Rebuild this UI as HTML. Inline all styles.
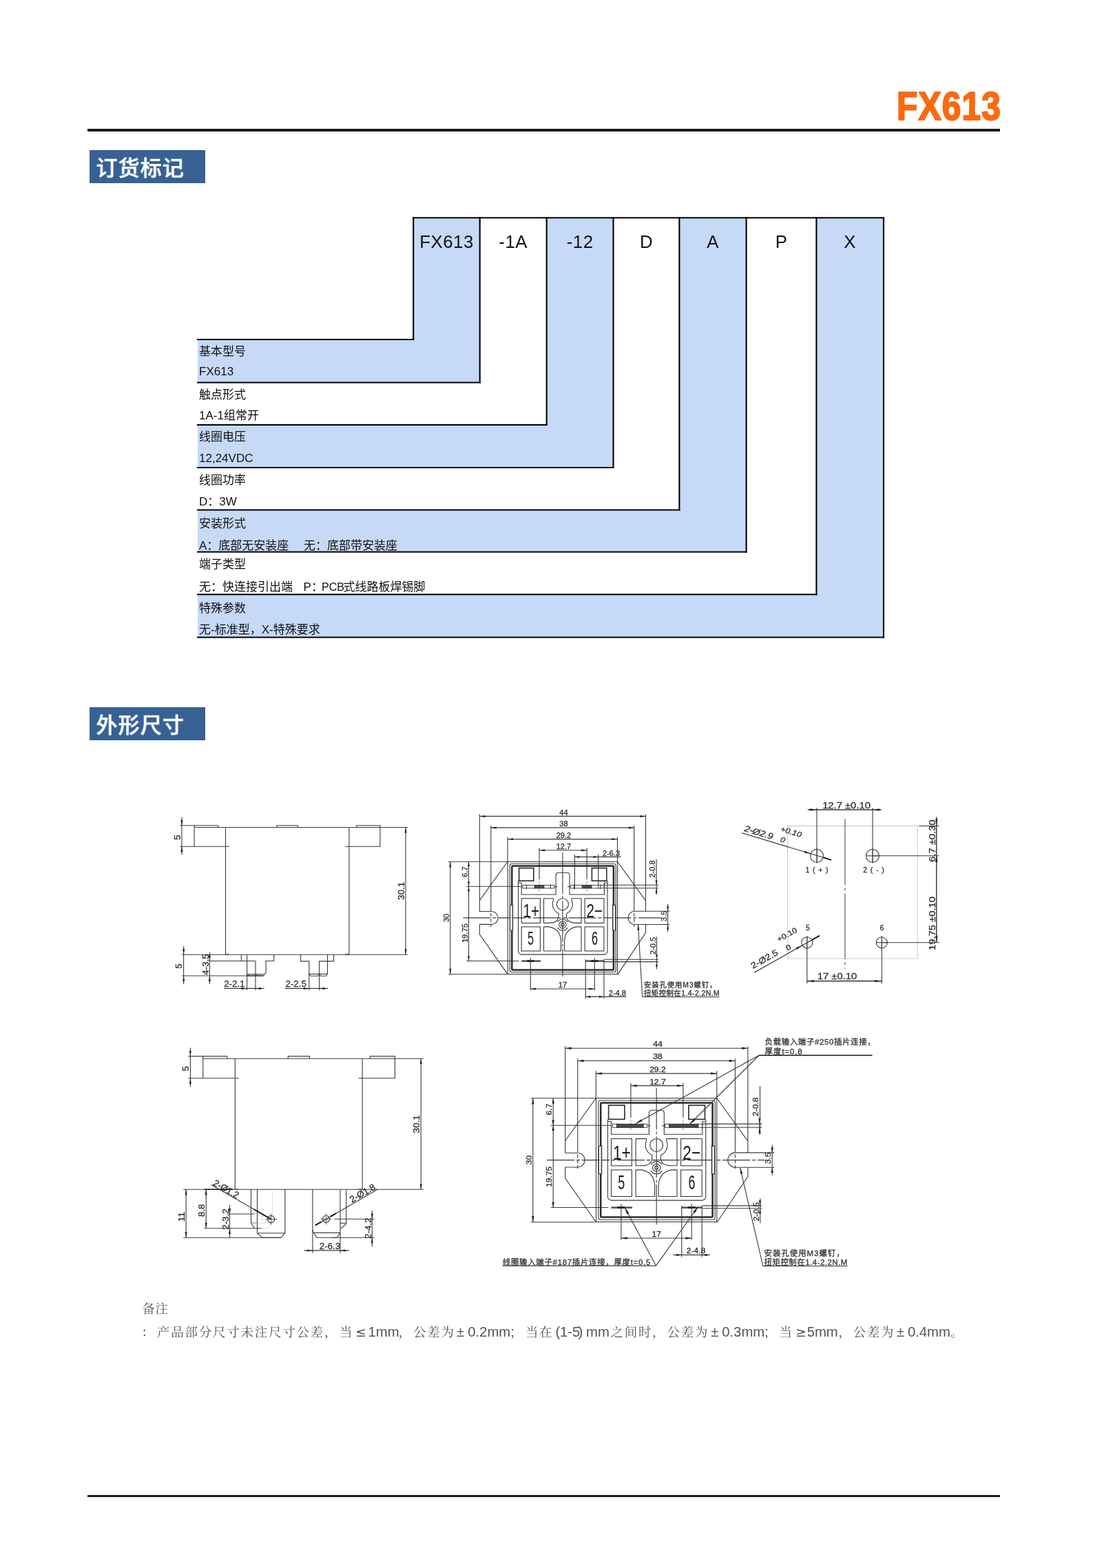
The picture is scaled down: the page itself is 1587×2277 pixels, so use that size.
<!DOCTYPE html>
<html lang="zh-CN">
<head>
<meta charset="utf-8">
<title>FX613</title>
<style>
html,body{margin:0;padding:0;background:#fff;}
body{width:1587px;height:2277px;position:relative;overflow:hidden;font-family:"Liberation Sans","Noto Sans CJK SC",sans-serif;}
svg{position:absolute;left:0;top:0;display:block;will-change:transform;}
.title{position:absolute;left:1301.5px;top:122.6px;width:150px;height:64px;color:#fa6a10;font-weight:bold;font-size:56.6px;line-height:64px;white-space:nowrap;-webkit-text-stroke:2.2px #fa6a10;}
.title span{display:inline-block;transform-origin:0 50%;transform:scaleX(0.875);letter-spacing:1.4px;}
.rule{position:absolute;left:127px;width:1325px;height:3.5px;background:#231815;}
.sec{position:absolute;left:130px;width:168px;height:48px;background:#376195;color:#fff;font-size:31px;line-height:54.4px;font-weight:500;-webkit-text-stroke:0.5px #fff;box-sizing:border-box;padding-left:9.5px;letter-spacing:1.1px;white-space:nowrap;font-family:"Liberation Sans","Noto Sans CJK SC",sans-serif;}
.n1,.n2{fill:#555;font-family:"Liberation Sans","Noto Serif CJK SC",serif;font-size:18.5px;}
.n1{letter-spacing:0.3px;}
.nc{letter-spacing:1.75px;}
.nl{font-size:20.3px;}
.ns{font-size:19px;font-family:"DejaVu Sans","Liberation Sans",sans-serif;}
.tb{stroke:#000;stroke-width:2.1;stroke-linecap:square;}
.th{font-size:25.8px;letter-spacing:0.5px;fill:#111;font-family:"Liberation Sans","Noto Sans CJK SC",sans-serif;}
.tl{font-size:17px;fill:#111;font-family:"Liberation Sans","Noto Sans CJK SC",sans-serif;}
.dw{fill:none;stroke:#3a3a3a;stroke-width:1.1;}
.dw .ah{fill:#222;stroke:none;}
.dw text{font-family:"Liberation Sans","Noto Sans CJK SC",sans-serif;fill:#2e2e2e;stroke:#2e2e2e;stroke-width:0.3;}
.dw .nt{fill:#333;stroke-width:0.3;}
.dw .cl{fill:#1a1a1a;stroke:none;}
</style>
</head>
<body>
<div class="title"><span>FX613</span></div>
<div class="rule" style="top:187px"></div>
<div class="sec" style="top:218px">订货标记</div>
<div class="sec" style="top:1027px">外形尺寸</div>
<svg class="tbl" width="1587" height="2277" viewBox="0 0 1587 2277">
<g class="tb">
<rect x="600.2" y="316.2" width="96.5" height="239.3" fill="#c6d9f7" stroke="none"/>
<rect x="287" y="493" width="409.7" height="62.5" fill="#c6d9f7" stroke="none"/>
<rect x="793.7" y="316.2" width="96.8" height="362.8" fill="#c6d9f7" stroke="none"/>
<rect x="287" y="617" width="603.5" height="62" fill="#c6d9f7" stroke="none"/>
<rect x="986.4" y="316.2" width="97.2" height="485.3" fill="#c6d9f7" stroke="none"/>
<rect x="287" y="740.5" width="796.6" height="61" fill="#c6d9f7" stroke="none"/>
<rect x="1185.4" y="316.2" width="97.6" height="609.3" fill="#c6d9f7" stroke="none"/>
<rect x="287" y="863.3" width="996" height="62.2" fill="#c6d9f7" stroke="none"/>
<line x1="600.2" y1="316.2" x2="1283" y2="316.2"/>
<line x1="600.2" y1="316.2" x2="600.2" y2="493"/>
<line x1="287" y1="493" x2="600.2" y2="493"/>
<line x1="696.7" y1="316.2" x2="696.7" y2="555.5"/>
<line x1="287" y1="555.5" x2="696.7" y2="555.5"/>
<line x1="793.7" y1="316.2" x2="793.7" y2="617"/>
<line x1="287" y1="617" x2="793.7" y2="617"/>
<line x1="890.5" y1="316.2" x2="890.5" y2="679"/>
<line x1="287" y1="679" x2="890.5" y2="679"/>
<line x1="986.4" y1="316.2" x2="986.4" y2="740.5"/>
<line x1="287" y1="740.5" x2="986.4" y2="740.5"/>
<line x1="1083.6" y1="316.2" x2="1083.6" y2="801.5"/>
<line x1="287" y1="801.5" x2="1083.6" y2="801.5"/>
<line x1="1185.4" y1="316.2" x2="1185.4" y2="863.3"/>
<line x1="287" y1="863.3" x2="1185.4" y2="863.3"/>
<line x1="1283" y1="316.2" x2="1283" y2="925.5"/>
<line x1="287" y1="925.5" x2="1283" y2="925.5"/>
</g>
<g>
<text class="th" x="648.5" y="360.3" text-anchor="middle">FX613</text>
<text class="th" x="745.2" y="360.3" text-anchor="middle">-1A</text>
<text class="th" x="842.1" y="360.3" text-anchor="middle">-12</text>
<text class="th" x="938.5" y="360.3" text-anchor="middle">D</text>
<text class="th" x="1035" y="360.3" text-anchor="middle">A</text>
<text class="th" x="1134.5" y="360.3" text-anchor="middle">P</text>
<text class="th" x="1234.2" y="360.3" text-anchor="middle">X</text>
<text class="tl" x="289" y="515.7">基本型号</text>
<text class="tl" x="289" y="545.3">FX613</text>
<text class="tl" x="289" y="578.7">触点形式</text>
<text class="tl" x="289" y="609.3">1A-1组常开</text>
<text class="tl" x="289" y="640.2">线圈电压</text>
<text class="tl" x="289" y="671">12,24VDC</text>
<text class="tl" x="289" y="703.4">线圈功率</text>
<text class="tl" x="289" y="734.1">D：3W</text>
<text class="tl" x="289" y="765.8">安装形式</text>
<text class="tl" x="289" y="798.4">A：底部无安装座<tspan x="441">无：底部带安装座</tspan></text>
<text class="tl" x="289" y="825.4">端子类型</text>
<text class="tl" x="289" y="858.2">无：快连接引出端<tspan x="440.6">P：<tspan font-size="16" x="467">PCB</tspan><tspan x="498.6">式线路板焊锡脚</tspan></tspan></text>
<text class="tl" x="289" y="888.7">特殊参数</text>
<text class="tl" x="289" y="920.3">无-标准型，X-特殊要求</text>
</g>
<g class="dw">
<g id="view-side-a"><line x1="282.1" y1="1201.5" x2="591.9" y2="1201.5"/>
<line x1="260.9" y1="1198.7" x2="316.8" y2="1198.7"/>
<line x1="282.1" y1="1198.7" x2="282.1" y2="1229.2"/>
<line x1="316.8" y1="1198.7" x2="316.8" y2="1201.5"/>
<line x1="260.9" y1="1229.2" x2="333" y2="1229.2"/>
<line x1="327.5" y1="1201.5" x2="327.5" y2="1386.2"/>
<line x1="506.9" y1="1201.5" x2="506.9" y2="1386.2"/>
<polyline points="401.9,1201.5 401.9,1198.7 432.5,1198.7 432.5,1201.5"/>
<polyline points="517.6,1201.5 517.6,1198.7 551.9,1198.7 551.9,1229.2 501.4,1229.2"/>
<line x1="589" y1="1201.5" x2="589" y2="1386.2"/>
<polygon class="ah" points="589,1201.5 590.5,1209.5 587.5,1209.5"/>
<polygon class="ah" points="589,1386.2 587.5,1378.2 590.5,1378.2"/>
<text class="dt" x="587" y="1293.8" font-size="13.3" text-anchor="middle" transform="rotate(-90 587 1293.8)">30.1</text>
<line x1="263.9" y1="1186.4" x2="263.9" y2="1241.5"/>
<polygon class="ah" points="263.9,1198.7 262.3,1190.7 265.4,1190.7"/>
<polygon class="ah" points="263.9,1229.2 265.4,1237.2 262.3,1237.2"/>
<text class="dt" x="261.7" y="1216" font-size="13.3" text-anchor="middle" transform="rotate(-90 261.7 1216)">5</text>
<line x1="263.9" y1="1386.2" x2="591.9" y2="1386.2"/>
<line x1="327.5" y1="1386.2" x2="332.5" y2="1386.2" stroke-width="1.4"/>
<line x1="500.9" y1="1386.2" x2="506.9" y2="1386.2" stroke-width="1.4"/>
<line x1="263.9" y1="1417" x2="382.3" y2="1417"/>
<line x1="266.6" y1="1373.9" x2="266.6" y2="1429.3"/>
<polygon class="ah" points="266.6,1386.2 265.1,1378.2 268.2,1378.2"/>
<polygon class="ah" points="266.6,1417 268.2,1425 265.1,1425"/>
<text class="dt" x="264.4" y="1403" font-size="13.3" text-anchor="middle" transform="rotate(-90 264.4 1403)">5</text>
<line x1="304.4" y1="1395.5" x2="371" y2="1395.5"/>
<line x1="304.4" y1="1383.3" x2="304.4" y2="1429.3"/>
<polygon class="ah" points="304.4,1395.5 302.8,1387.5 305.9,1387.5"/>
<polygon class="ah" points="304.4,1417 305.9,1425 302.8,1425"/>
<text class="dt" x="302.6" y="1400.5" font-size="13.3" text-anchor="middle" transform="rotate(-90 302.6 1400.5)">4-3.5</text>
<line x1="350.4" y1="1386.2" x2="350.4" y2="1395.5"/>
<line x1="358.6" y1="1386.2" x2="358.6" y2="1438.1"/>
<line x1="371" y1="1395.5" x2="371" y2="1438.1"/>
<polyline points="397.7,1386.2 397.7,1395.5 386.1,1395.5 386.1,1412.9 382.3,1417"/>
<line x1="358.6" y1="1414.8" x2="383.5" y2="1414.8"/>
<line x1="358.6" y1="1417" x2="382.3" y2="1417" stroke-width="1.3"/>
<polyline points="360,1415 361.5,1417"/>
<polyline points="369.5,1415 371,1417"/>
<polyline points="372.5,1415 374,1417"/>
<line x1="325.4" y1="1435.4" x2="383.6" y2="1435.4"/>
<polygon class="ah" points="358.6,1435.4 350.6,1437 350.6,1433.9"/>
<polygon class="ah" points="371,1435.4 379,1433.9 379,1437"/>
<text class="dt" x="340.3" y="1433.4" font-size="13.3" text-anchor="middle">2-2.1</text>
<polyline points="436.5,1386.2 436.5,1395.9 448.8,1395.9 448.8,1438.1"/>
<polyline points="484.6,1386.2 484.6,1395.9 463.6,1395.9 463.6,1438.1"/>
<line x1="475.5" y1="1386.2" x2="475.5" y2="1414.4"/>
<polyline points="448.8,1414.4 451,1417.3 461.5,1417.3 463.6,1414.4 465.8,1417.3 473.5,1417.3 475.5,1414.4"/>
<line x1="448.8" y1="1414.4" x2="475.5" y2="1414.4"/>
<line x1="413.8" y1="1435.4" x2="476.2" y2="1435.4"/>
<polygon class="ah" points="448.8,1435.4 440.8,1437 440.8,1433.9"/>
<polygon class="ah" points="463.6,1435.4 471.6,1433.9 471.6,1437"/>
<text class="dt" x="429.7" y="1433.4" font-size="13.3" text-anchor="middle">2-2.5</text></g>
<g id="view-top-a"><line x1="696.4" y1="1182.6" x2="696.4" y2="1307.4"/>
<line x1="937.5" y1="1182.6" x2="937.5" y2="1307.9"/>
<line x1="696.4" y1="1185.4" x2="937.5" y2="1185.4"/>
<polygon class="ah" points="696.4,1185.4 704.4,1183.9 704.4,1187"/>
<polygon class="ah" points="937.5,1185.4 929.5,1187 929.5,1183.9"/>
<text class="dt" transform="translate(818.4 1183.6) scale(1.1 1)" font-size="10" text-anchor="middle">44</text>
<line x1="712.8" y1="1199" x2="712.8" y2="1318"/>
<line x1="712.8" y1="1318" x2="712.8" y2="1346" stroke-dasharray="5 3"/>
<line x1="920.7" y1="1199" x2="920.7" y2="1318"/>
<line x1="920.7" y1="1318" x2="920.7" y2="1346" stroke-dasharray="5 3"/>
<line x1="712.8" y1="1201.9" x2="920.7" y2="1201.9"/>
<polygon class="ah" points="712.8,1201.9 720.8,1200.4 720.8,1203.5"/>
<polygon class="ah" points="920.7,1201.9 912.7,1203.5 912.7,1200.4"/>
<text class="dt" transform="translate(818.4 1200) scale(1.1 1)" font-size="10" text-anchor="middle">38</text>
<line x1="737" y1="1215.4" x2="737" y2="1251.3"/>
<line x1="896.5" y1="1215.4" x2="896.5" y2="1251.3"/>
<line x1="737" y1="1218.6" x2="896.5" y2="1218.6"/>
<polygon class="ah" points="737,1218.6 745,1217 745,1220.1"/>
<polygon class="ah" points="896.5,1218.6 888.5,1220.1 888.5,1217"/>
<text class="dt" transform="translate(818.4 1216.7) scale(1.1 1)" font-size="10" text-anchor="middle">29.2</text>
<line x1="783" y1="1231.2" x2="783" y2="1277"/>
<line x1="852.1" y1="1231.2" x2="852.1" y2="1277"/>
<line x1="783" y1="1280" x2="783" y2="1294" stroke="#777" stroke-dasharray="2 2"/>
<line x1="852.1" y1="1280" x2="852.1" y2="1294" stroke="#777" stroke-dasharray="2 2"/>
<line x1="783" y1="1234.7" x2="852.1" y2="1234.7"/>
<polygon class="ah" points="783,1234.7 791,1233.2 791,1236.2"/>
<polygon class="ah" points="852.1,1234.7 844.1,1236.2 844.1,1233.2"/>
<text class="dt" transform="translate(818.4 1232.8) scale(1.1 1)" font-size="10" text-anchor="middle">12.7</text>
<line x1="816.9" y1="1238" x2="816.9" y2="1418" stroke-dasharray="60 3 4 3"/>
<line x1="672.3" y1="1332.9" x2="960" y2="1332.9" stroke-dasharray="40 3 5 3"/>
<line x1="651" y1="1251.3" x2="737" y2="1251.3"/>
<line x1="651" y1="1414.8" x2="737" y2="1414.8"/>
<line x1="653.8" y1="1251.3" x2="653.8" y2="1414.8"/>
<polygon class="ah" points="653.8,1251.3 655.3,1259.3 652.2,1259.3"/>
<polygon class="ah" points="653.8,1414.8 652.2,1406.8 655.3,1406.8"/>
<text class="dt" transform="translate(652 1332.9) rotate(-90) scale(1.1 1)" font-size="10" text-anchor="middle">30</text>
<line x1="677.2" y1="1287.2" x2="757" y2="1287.2"/>
<line x1="677.4" y1="1395.5" x2="753.4" y2="1395.5"/>
<line x1="680.5" y1="1251.3" x2="680.5" y2="1395.5"/>
<polygon class="ah" points="680.5,1251.3 682,1258.3 679,1258.3"/>
<polygon class="ah" points="680.5,1287.2 679,1280.2 682,1280.2"/>
<polygon class="ah" points="680.5,1287.2 682,1294.2 679,1294.2"/>
<polygon class="ah" points="680.5,1395.5 679,1388.5 682,1388.5"/>
<text class="dt" transform="translate(678.6 1266) rotate(-90) scale(1.1 1)" font-size="10" text-anchor="middle">6.7</text>
<text class="dt" transform="translate(678.6 1355) rotate(-90) scale(1.1 1)" font-size="10" text-anchor="middle">19.75</text>
<polyline points="737,1251.3 696.4,1307.4 696.4,1323.5 713.7,1323.5"/>
<path d="M713.7 1323.5 A9.4 9.4 0 0 1 713.7 1342.4"/>
<polyline points="713.7,1342.4 696.4,1342.4 696.4,1356.9 737,1414.6"/>
<polyline points="896.5,1251.3 937.5,1307.9 937.5,1323.2"/>
<line x1="920.7" y1="1323.2" x2="972.4" y2="1323.2"/>
<line x1="920.7" y1="1342.5" x2="972.4" y2="1342.5"/>
<path d="M920.7 1323.2 A9.7 9.7 0 0 0 920.7 1342.5"/>
<polyline points="937.5,1342.5 937.5,1354.6 896.8,1415.1"/>
<rect x="737.2" y="1251.3" width="159.4" height="163.3"/>
<rect x="740.2" y="1254.2" width="154" height="157.5" rx="3"/>
<rect x="743.3" y="1257.4" width="147.6" height="151" stroke-width="2.5" stroke="#2a2a2a" rx="1"/>
<rect x="740.6" y="1314.4" width="4" height="36.8"/>
<rect x="889.6" y="1314.4" width="4" height="36.8"/>
<line x1="742.6" y1="1315" x2="742.6" y2="1350.6" stroke-width="2.2" stroke="#fff"/>
<line x1="891.6" y1="1315" x2="891.6" y2="1350.6" stroke-width="2.2" stroke="#fff"/>
<rect x="753.6" y="1260.6" width="21.2" height="18.5" stroke-width="1.6" stroke="#2a2a2a"/>
<rect x="859.4" y="1260.6" width="21.4" height="18.5" stroke-width="1.6" stroke="#2a2a2a"/>
<path d="M752.5 1279.1 L752.5 1381 A5 5 0 0 0 757.5 1386.1 L877 1386.1 A5 5 0 0 0 882 1381 L882 1279.1"/>
<path d="M757.2 1282 L757.2 1299 L807.1 1299 L807.1 1270.6 A3.4 3.4 0 0 1 810.5 1267.2 L823.6 1267.2 A3.4 3.4 0 0 1 827 1270.6 L827 1299 L877.4 1299 L877.4 1282"/>
<line x1="752.5" y1="1282" x2="757.2" y2="1282"/>
<line x1="877.4" y1="1282" x2="882" y2="1282"/>
<rect x="758.9" y="1285.4" width="46" height="4.5" stroke-width="0.9"/>
<rect x="776" y="1285.5" width="14" height="4.3" fill="#4a4a4a" stroke="#333" stroke-width="0.8"/>
<line x1="764.4" y1="1284.5" x2="764.4" y2="1290.8"/>
<line x1="799.4" y1="1284.5" x2="799.4" y2="1290.8"/>
<rect x="828.1" y="1285.4" width="49.3" height="4.5" stroke-width="0.9"/>
<rect x="845.1" y="1285.5" width="14" height="4.3" fill="#4a4a4a" stroke="#333" stroke-width="0.8"/>
<line x1="833.6" y1="1284.5" x2="833.6" y2="1290.8"/>
<line x1="871.9" y1="1284.5" x2="871.9" y2="1290.8"/>
<line x1="804.9" y1="1287.6" x2="809" y2="1287.6"/>
<line x1="824" y1="1287.6" x2="828.1" y2="1287.6"/>
<rect x="757.2" y="1304.7" width="27.2" height="35.7"/>
<rect x="849.1" y="1304.7" width="27.8" height="35.7"/>
<rect x="757.2" y="1345.9" width="27.2" height="35.1"/>
<rect x="849.1" y="1345.9" width="27.8" height="35.1"/>
<path d="M803.6 1304.7 L789.5 1304.7 L789.5 1340.4 L797 1340.4 Q811.1 1340.4 811.1 1329.6 L811.1 1326.5 A14.5 14.5 0 0 1 803.6 1307.2 Q803.6 1305 803.6 1304.7"/>
<path d="M830 1304.7 L844 1304.7 L844 1340.4 L836.6 1340.4 Q822.5 1340.4 822.5 1329.6 L822.5 1326.5 A14.5 14.5 0 0 0 830 1307.2 Q830 1305 830 1304.7"/>
<path d="M789.5 1345.9 L789.5 1381 L814.5 1381 L814.5 1366 Q813.5 1349 797 1345.9 Z"/>
<path d="M844 1345.9 L844 1381 L819.6 1381 L819.6 1366 Q820.6 1349 837 1345.9 Z"/>
<circle cx="816.9" cy="1313.2" r="8.5"/>
<circle cx="816.9" cy="1343" r="2.3" stroke-width="1.2"/>
<circle cx="816.9" cy="1343" r="5.1"/>
<path d="M809.5 1339 A8.5 8.5 0 0 1 824.3 1339"/>
<path d="M824.3 1347 A8.5 8.5 0 0 1 809.5 1347"/>
<text class="cl" font-size="27" text-anchor="middle" transform="translate(771.2 1331.9) scale(0.76 1)">1+</text>
<text class="cl" font-size="27" text-anchor="middle" transform="translate(863.3 1331.9) scale(0.76 1)">2−</text>
<text class="cl" font-size="27" text-anchor="middle" transform="translate(770.6 1371.6) scale(0.6 1)">5</text>
<text class="cl" font-size="27" text-anchor="middle" transform="translate(863.4 1371.6) scale(0.6 1)">6</text>
<line x1="757.2" y1="1395.6" x2="785" y2="1395.6" stroke-width="2.6" stroke="#555"/>
<line x1="765.3" y1="1395.6" x2="775.3" y2="1395.6" stroke-width="2.8" stroke="#222"/>
<line x1="850.2" y1="1395.6" x2="877.4" y2="1395.6" stroke-width="2.6" stroke="#555"/>
<line x1="858.3" y1="1395.6" x2="868.3" y2="1395.6" stroke-width="2.8" stroke="#222"/>
<line x1="770.3" y1="1391" x2="770.3" y2="1438.3"/>
<line x1="863.3" y1="1391" x2="863.3" y2="1438.3"/>
<line x1="770.3" y1="1436" x2="863.3" y2="1436"/>
<polygon class="ah" points="770.3,1436 778.3,1434.5 778.3,1437.5"/>
<polygon class="ah" points="863.3,1436 855.3,1437.5 855.3,1434.5"/>
<text class="dt" transform="translate(816.9 1434.3) scale(1.1 1)" font-size="10" text-anchor="middle">17</text>
<line x1="850.2" y1="1393" x2="850.2" y2="1450.2"/>
<line x1="876.9" y1="1393" x2="876.9" y2="1450.2"/>
<line x1="850.2" y1="1447.4" x2="909.5" y2="1447.4"/>
<polygon class="ah" points="850.2,1447.4 857.2,1445.9 857.2,1449"/>
<polygon class="ah" points="876.9,1447.4 869.9,1449 869.9,1445.9"/>
<text class="dt" transform="translate(896.3 1445.6) scale(1.1 1)" font-size="10" text-anchor="middle">2-4.8</text>
<line x1="877.4" y1="1285.2" x2="956" y2="1285.2"/>
<line x1="877.4" y1="1289.8" x2="956" y2="1289.8"/>
<line x1="953.1" y1="1276.9" x2="953.1" y2="1299.6"/>
<polygon class="ah" points="953.1,1285.2 951.6,1278.2 954.6,1278.2"/>
<polygon class="ah" points="953.1,1289.8 954.6,1296.8 951.6,1296.8"/>
<line x1="969.6" y1="1312.7" x2="969.6" y2="1353"/>
<polygon class="ah" points="969.6,1323.2 968.1,1316.2 971.1,1316.2"/>
<polygon class="ah" points="969.6,1342.5 971.1,1349.5 968.1,1349.5"/>
<text class="dt" transform="translate(967.6 1330.3) rotate(-90) scale(1.1 1)" font-size="10" text-anchor="middle">3.5</text>
<line x1="877.4" y1="1393.2" x2="956" y2="1393.2"/>
<line x1="877.4" y1="1396.6" x2="956" y2="1396.6"/>
<polygon class="ah" points="953.5,1393.2 952,1386.2 955,1386.2"/>
<polygon class="ah" points="953.5,1396.6 955,1403.6 952,1403.6"/>
<line x1="953.1" y1="1248" x2="953.1" y2="1276.9"/>
<text class="dt" transform="translate(951.3 1262) rotate(-90) scale(1.1 1)" font-size="10" text-anchor="middle">2-0.8</text>
<line x1="953.5" y1="1360.3" x2="953.5" y2="1407.4"/>
<text class="dt" transform="translate(951.6 1373.4) rotate(-90) scale(1.1 1)" font-size="10" text-anchor="middle">2-0.5</text>
<line x1="834.4" y1="1241" x2="834.4" y2="1291"/>
<line x1="868.7" y1="1241" x2="868.7" y2="1291"/>
<line x1="834.4" y1="1244.4" x2="901.7" y2="1244.4"/>
<polygon class="ah" points="834.4,1244.4 841.4,1242.9 841.4,1246"/>
<polygon class="ah" points="868.7,1244.4 861.7,1246 861.7,1242.9"/>
<text class="dt" transform="translate(887.6 1242.7) scale(1.1 1)" font-size="10" text-anchor="middle">2-6.3</text>
<line x1="877" y1="1279" x2="877" y2="1291" stroke-dasharray="2 2"/>
<polyline points="926.5,1342.7 932.7,1447.7 1044.5,1447.7"/>
<polygon class="ah" points="926.5,1342.7 928.5,1350.6 925.4,1350.8"/>
<text class="nt" x="935" y="1434.3" font-size="10.4" textLength="105.5">安装孔使用M3螺钉，</text>
<text class="nt" x="935" y="1446.2" font-size="10.4" textLength="109.7">扭矩控制在1.4-2.2N.M</text></g>
<g id="view-pcb"><rect x="1143.6" y="1199.4" width="188.6" height="192.6" stroke="#9a9a9a" stroke-dasharray="1 1"/>
<circle cx="1186" cy="1242.8" r="9.5"/>
<circle cx="1267" cy="1242.8" r="9.5"/>
<circle cx="1171.8" cy="1368.8" r="8"/>
<circle cx="1280.3" cy="1368.8" r="8"/>
<line x1="1186" y1="1173.2" x2="1186" y2="1252.8"/>
<line x1="1267" y1="1173.2" x2="1267" y2="1252.8"/>
<line x1="1172.8" y1="1175.8" x2="1279.7" y2="1175.8" stroke-width="1.2" stroke="#111"/>
<polygon class="ah" points="1186,1175.8 1176,1177.4 1176,1174.2"/>
<polygon class="ah" points="1267,1175.8 1277,1174.2 1277,1177.4"/>
<text class="dt" transform="translate(1229 1173.6) scale(1.12 1)" font-size="13.2" text-anchor="middle">12.7 ±0.10</text>
<line x1="1226.9" y1="1189.3" x2="1226.9" y2="1407.1" stroke="#555" stroke-dasharray="96 4 4 4"/>
<line x1="1359.8" y1="1186.3" x2="1359.8" y2="1368.8" stroke-width="1.2" stroke="#111"/>
<line x1="1334.2" y1="1199.4" x2="1363.4" y2="1199.4"/>
<line x1="1267" y1="1242.8" x2="1363.4" y2="1242.8"/>
<line x1="1280.3" y1="1368.8" x2="1363.4" y2="1368.8"/>
<line x1="1257" y1="1242.8" x2="1277" y2="1242.8"/>
<line x1="1272" y1="1368.8" x2="1289" y2="1368.8"/>
<polygon class="ah" points="1359.8,1199.4 1358.2,1189.4 1361.4,1189.4"/>
<polygon class="ah" points="1359.8,1242.8 1361.4,1251.8 1358.2,1251.8"/>
<polygon class="ah" points="1359.8,1242.8 1361.4,1251.8 1358.2,1251.8"/>
<polygon class="ah" points="1359.8,1368.8 1358.2,1358.8 1361.4,1358.8"/>
<text class="dt" transform="translate(1358.2 1221) rotate(-90) scale(1.12 1)" font-size="13.2" text-anchor="middle">6.7 ±0.30</text>
<text class="dt" transform="translate(1358.2 1341) rotate(-90) scale(1.12 1)" font-size="13.2" text-anchor="middle">19.75 ±0.10</text>
<line x1="1171.8" y1="1360" x2="1171.8" y2="1428.3"/>
<line x1="1280.3" y1="1360" x2="1280.3" y2="1428.3"/>
<line x1="1171.8" y1="1424.7" x2="1280.3" y2="1424.7" stroke-width="1.2" stroke="#111"/>
<polygon class="ah" points="1171.8,1424.7 1181.8,1423.1 1181.8,1426.3"/>
<polygon class="ah" points="1280.3,1424.7 1270.3,1426.3 1270.3,1423.1"/>
<text class="dt" transform="translate(1215.5 1422.4) scale(1.12 1)" font-size="13.2" text-anchor="middle">17 ±0.10</text>
<line x1="1077" y1="1209.5" x2="1207.1" y2="1248.8" stroke-width="1.1" stroke="#222"/>
<polygon class="ah" points="1177,1239.7 1167.9,1238.6 1168.8,1235.6"/>
<polygon class="ah" points="1195.3,1245.2 1195.4,1245.1 1195.4,1245.3"/>
<line x1="1196" y1="1245.4" x2="1207.1" y2="1248.8" stroke-width="1.8" stroke="#111"/>
<text class="dt" transform="translate(1100.5 1213) rotate(16.8) scale(1.12 1)" font-size="12.6" text-anchor="middle" font-style="italic">2-Ø2.9</text>
<text class="dt" transform="translate(1147.5 1211.5) rotate(16.8) scale(1.15 1)" font-size="10.8" text-anchor="middle" font-style="italic">+0.10</text>
<text class="dt" transform="translate(1135.5 1223) rotate(16.8) scale(1.15 1)" font-size="10.8" text-anchor="middle" font-style="italic">0</text>
<line x1="1095.2" y1="1412.2" x2="1190" y2="1358.7" stroke-width="1.1" stroke="#222"/>
<polygon class="ah" points="1164.5,1373 1157.4,1378.8 1155.9,1376"/>
<line x1="1179" y1="1364.9" x2="1190" y2="1358.7" stroke-width="1.8" stroke="#111"/>
<text class="dt" transform="translate(1112 1396.5) rotate(-29.4) scale(1.12 1)" font-size="12.6" text-anchor="middle">2-Ø2.5</text>
<text class="dt" transform="translate(1144.5 1360.5) rotate(-29.4) scale(1.15 1)" font-size="10.8" text-anchor="middle">+0.10</text>
<text class="dt" transform="translate(1146.5 1379) rotate(-29.4) scale(1.15 1)" font-size="10.8" text-anchor="middle">0</text>
<text class="dt" x="1186.5" y="1267" font-size="10.5" text-anchor="middle" letter-spacing="0.9">1 ( + )</text>
<text class="dt" x="1269" y="1267" font-size="10.5" text-anchor="middle" letter-spacing="0.9">2 ( - )</text>
<text class="dt" x="1172.8" y="1350.6" font-size="10.5" text-anchor="middle">5</text>
<text class="dt" x="1280.3" y="1350.6" font-size="10.5" text-anchor="middle">6</text>
<line x1="1186" y1="1231.8" x2="1186" y2="1253.8" stroke-width="0.8"/>
<line x1="1267" y1="1231.8" x2="1267" y2="1253.8" stroke-width="0.8"/>
<line x1="1171.8" y1="1358.8" x2="1171.8" y2="1378.8" stroke-width="0.8"/>
<line x1="1280.3" y1="1358.8" x2="1280.3" y2="1378.8" stroke-width="0.8"/></g>
<g id="view-side-b"><line x1="294.7" y1="1537.2" x2="614.8" y2="1537.2"/>
<line x1="273.4" y1="1533.9" x2="330" y2="1533.9"/>
<line x1="294.7" y1="1533.9" x2="294.7" y2="1565.7"/>
<line x1="330" y1="1533.9" x2="330" y2="1537.2"/>
<line x1="273.4" y1="1565.7" x2="346.8" y2="1565.7"/>
<line x1="341.3" y1="1537.2" x2="341.3" y2="1727.3"/>
<line x1="526.1" y1="1537.2" x2="526.1" y2="1727.3"/>
<polyline points="418.2,1537.2 418.2,1533.9 449.6,1533.9 449.6,1537.2"/>
<polyline points="537.3,1537.2 537.3,1533.9 573.4,1533.9 573.4,1565.7 520.6,1565.7"/>
<line x1="611.2" y1="1537.2" x2="611.2" y2="1727.3"/>
<polygon class="ah" points="611.2,1537.2 612.8,1545.2 609.7,1545.2"/>
<polygon class="ah" points="611.2,1727.3 609.7,1719.3 612.8,1719.3"/>
<text class="dt" x="609.2" y="1632.2" font-size="13.3" text-anchor="middle" transform="rotate(-90 609.2 1632.2)">30.1</text>
<line x1="276.4" y1="1521.6" x2="276.4" y2="1578"/>
<polygon class="ah" points="276.4,1533.9 274.8,1525.9 277.9,1525.9"/>
<polygon class="ah" points="276.4,1565.7 277.9,1573.7 274.8,1573.7"/>
<text class="dt" x="274.2" y="1551.8" font-size="13.3" text-anchor="middle" transform="rotate(-90 274.2 1551.8)">5</text>
<line x1="266.3" y1="1727.3" x2="614.8" y2="1727.3"/>
<line x1="341.3" y1="1727.3" x2="346.3" y2="1727.3" stroke-width="1.4"/>
<line x1="520.1" y1="1727.3" x2="526.1" y2="1727.3" stroke-width="1.4"/>
<line x1="296.4" y1="1727.3" x2="338.4" y2="1727.3" stroke-width="1.6" stroke="#111"/>
<line x1="270.1" y1="1727.3" x2="270.1" y2="1797.3"/>
<polygon class="ah" points="270.1,1727.3 271.7,1735.3 268.6,1735.3"/>
<polygon class="ah" points="270.1,1797.3 268.6,1789.3 271.7,1789.3"/>
<line x1="266.3" y1="1797.3" x2="408.1" y2="1797.3"/>
<text class="dt" x="267.8" y="1767" font-size="13.3" text-anchor="middle" transform="rotate(-90 267.8 1767)">11</text>
<line x1="299.2" y1="1727.3" x2="299.2" y2="1783.7"/>
<polygon class="ah" points="299.2,1727.3 300.8,1735.3 297.6,1735.3"/>
<polygon class="ah" points="299.2,1783.7 297.6,1775.7 300.8,1775.7"/>
<line x1="296.4" y1="1783.7" x2="379.8" y2="1783.7"/>
<text class="dt" x="297" y="1757.8" font-size="13.3" text-anchor="middle" transform="rotate(-90 297 1757.8)">8.8</text>
<line x1="333.5" y1="1749.9" x2="333.5" y2="1797.3"/>
<line x1="332" y1="1763" x2="369.6" y2="1763"/>
<polygon class="ah" points="333.5,1763 331.9,1755 335.1,1755"/>
<polygon class="ah" points="333.5,1783.7 335.1,1791.7 331.9,1791.7"/>
<text class="dt" x="331.6" y="1770.3" font-size="13.3" text-anchor="middle" transform="rotate(-90 331.6 1770.3)">2-3.2</text>
<polyline points="364.5,1727.3 364.5,1776 369.6,1783.7"/>
<line x1="364.5" y1="1776" x2="373.5" y2="1776" stroke="#888"/>
<polyline points="373.5,1727.3 373.5,1790.7 380.9,1797.3 408.1,1797.3 413.8,1790.7 413.8,1727.3"/>
<line x1="373.5" y1="1790.7" x2="413.8" y2="1790.7"/>
<line x1="395.7" y1="1727.3" x2="395.7" y2="1765" stroke-width="0.8" stroke="#999" stroke-dasharray="1 1.5"/>
<polyline points="373.5,1776 393,1776 390,1783.7 379.8,1783.7" stroke-width="0.8" stroke="#999" stroke-dasharray="1 1.5"/>
<line x1="381" y1="1755" x2="381" y2="1772" stroke-width="0.8" stroke="#999" stroke-dasharray="3 2"/>
<circle cx="393.6" cy="1770.5" r="5.1"/>
<line x1="385.5" y1="1770.5" x2="402" y2="1770.5" stroke-width="0.8"/>
<line x1="393.6" y1="1762.5" x2="393.6" y2="1778.5" stroke-width="0.8"/>
<line x1="306.6" y1="1720.4" x2="393.6" y2="1770.5"/>
<line x1="368.4" y1="1756" x2="393.6" y2="1770.5" stroke-width="1.8" stroke="#111"/>
<text class="dt" x="326" y="1730.6" font-size="13.3" text-anchor="middle" transform="rotate(30 326 1730.6)">2-Ø1.2</text>
<line x1="453.9" y1="1727.3" x2="453.9" y2="1819.7"/>
<path d="M453.9 1786 Q454.2 1790.1 460.2 1797.3 L489.2 1797.3 L494 1790.1"/>
<line x1="455" y1="1790.1" x2="494" y2="1790.1"/>
<line x1="494" y1="1727.3" x2="494" y2="1819.7"/>
<polyline points="502.8,1727.3 502.8,1776.9 496.2,1783.2 494,1783.2"/>
<line x1="494" y1="1776.2" x2="502.8" y2="1776.2"/>
<circle cx="473.5" cy="1770.3" r="5"/>
<line x1="465.5" y1="1770.3" x2="481.5" y2="1770.3" stroke-width="0.8"/>
<line x1="473.5" y1="1762.3" x2="473.5" y2="1778.3" stroke-width="0.8"/>
<line x1="548.5" y1="1727.1" x2="457.7" y2="1779.4"/>
<line x1="457.7" y1="1779.4" x2="466.5" y2="1774.3" stroke-width="1.8" stroke="#111"/>
<line x1="480" y1="1766.6" x2="488" y2="1762" stroke-width="1.8" stroke="#111"/>
<text class="dt" x="528.6" y="1736.6" font-size="13.3" text-anchor="middle" transform="rotate(-30 528.6 1736.6)">2-Ø1.8</text>
<line x1="485.5" y1="1770.3" x2="543.4" y2="1770.3"/>
<line x1="482.3" y1="1797.3" x2="543.4" y2="1797.3"/>
<line x1="540.3" y1="1758" x2="540.3" y2="1810.3"/>
<polygon class="ah" points="540.3,1770.3 538.8,1762.3 541.8,1762.3"/>
<polygon class="ah" points="540.3,1797.3 541.8,1805.3 538.8,1805.3"/>
<text class="dt" x="538.5" y="1783.5" font-size="13.3" text-anchor="middle" transform="rotate(-90 538.5 1783.5)">2-4.2</text>
<line x1="441.3" y1="1815.9" x2="506.9" y2="1815.9"/>
<polygon class="ah" points="453.9,1815.9 445.9,1817.5 445.9,1814.4"/>
<polygon class="ah" points="494,1815.9 502,1814.4 502,1817.5"/>
<text class="dt" x="479" y="1813.7" font-size="13.3" text-anchor="middle">2-6.3</text></g>
<g id="view-top-b"><line x1="820.7" y1="1519.3" x2="820.7" y2="1656.5"/>
<line x1="1085.9" y1="1519.3" x2="1085.9" y2="1657.1"/>
<line x1="820.7" y1="1522.3" x2="1085.9" y2="1522.3"/>
<polygon class="ah" points="820.7,1522.3 829.5,1520.6 829.5,1524.1"/>
<polygon class="ah" points="1085.9,1522.3 1077.1,1524.1 1077.1,1520.6"/>
<text class="dt" transform="translate(954.9 1520.4) scale(1.1 1)" font-size="11" text-anchor="middle">44</text>
<line x1="838.7" y1="1537.3" x2="838.7" y2="1668.2"/>
<line x1="838.7" y1="1668.2" x2="838.7" y2="1699" stroke-dasharray="5 3"/>
<line x1="1067.4" y1="1537.3" x2="1067.4" y2="1668.2"/>
<line x1="1067.4" y1="1668.2" x2="1067.4" y2="1699" stroke-dasharray="5 3"/>
<line x1="838.7" y1="1540.5" x2="1067.4" y2="1540.5"/>
<polygon class="ah" points="838.7,1540.5 847.5,1538.8 847.5,1542.2"/>
<polygon class="ah" points="1067.4,1540.5 1058.6,1542.2 1058.6,1538.8"/>
<text class="dt" transform="translate(954.9 1538.4) scale(1.1 1)" font-size="11" text-anchor="middle">38</text>
<line x1="865.3" y1="1555.3" x2="865.3" y2="1594.8"/>
<line x1="1040.8" y1="1555.3" x2="1040.8" y2="1594.8"/>
<line x1="865.3" y1="1558.9" x2="1040.8" y2="1558.9"/>
<polygon class="ah" points="865.3,1558.9 874.1,1557.2 874.1,1560.6"/>
<polygon class="ah" points="1040.8,1558.9 1032,1560.6 1032,1557.2"/>
<text class="dt" transform="translate(954.9 1556.8) scale(1.1 1)" font-size="11" text-anchor="middle">29.2</text>
<line x1="915.9" y1="1572.7" x2="915.9" y2="1623.1"/>
<line x1="991.9" y1="1572.7" x2="991.9" y2="1623.1"/>
<line x1="915.9" y1="1626.4" x2="915.9" y2="1641.8" stroke="#777" stroke-dasharray="2 2"/>
<line x1="991.9" y1="1626.4" x2="991.9" y2="1641.8" stroke="#777" stroke-dasharray="2 2"/>
<line x1="915.9" y1="1576.6" x2="991.9" y2="1576.6"/>
<polygon class="ah" points="915.9,1576.6 924.7,1574.9 924.7,1578.3"/>
<polygon class="ah" points="991.9,1576.6 983.1,1578.3 983.1,1574.9"/>
<text class="dt" transform="translate(954.9 1574.5) scale(1.1 1)" font-size="11" text-anchor="middle">12.7</text>
<line x1="953.2" y1="1580.2" x2="953.2" y2="1778.2" stroke-dasharray="60 3 4 3"/>
<line x1="794.1" y1="1684.6" x2="1110.6" y2="1684.6" stroke-dasharray="40 3 5 3"/>
<line x1="770.7" y1="1594.8" x2="865.3" y2="1594.8"/>
<line x1="770.7" y1="1774.7" x2="865.3" y2="1774.7"/>
<line x1="773.8" y1="1594.8" x2="773.8" y2="1774.7"/>
<polygon class="ah" points="773.8,1594.8 775.5,1603.6 772.1,1603.6"/>
<polygon class="ah" points="773.8,1774.7 772.1,1765.9 775.5,1765.9"/>
<text class="dt" transform="translate(771.8 1684.6) rotate(-90) scale(1.1 1)" font-size="11" text-anchor="middle">30</text>
<line x1="799.5" y1="1634.3" x2="887.3" y2="1634.3"/>
<line x1="799.8" y1="1753.5" x2="883.4" y2="1753.5"/>
<line x1="803.2" y1="1594.8" x2="803.2" y2="1753.5"/>
<polygon class="ah" points="803.2,1594.8 804.9,1602.5 801.5,1602.5"/>
<polygon class="ah" points="803.2,1634.3 801.5,1626.6 804.9,1626.6"/>
<polygon class="ah" points="803.2,1634.3 804.9,1642 801.5,1642"/>
<polygon class="ah" points="803.2,1753.5 801.5,1745.8 804.9,1745.8"/>
<text class="dt" transform="translate(801.1 1611) rotate(-90) scale(1.1 1)" font-size="11" text-anchor="middle">6.7</text>
<text class="dt" transform="translate(801.1 1708.9) rotate(-90) scale(1.1 1)" font-size="11" text-anchor="middle">19.75</text>
<polyline points="865.3,1594.8 820.7,1656.5 820.7,1674.3 839.7,1674.3"/>
<path d="M839.7 1674.3 A10.4 10.4 0 0 1 839.7 1695"/>
<polyline points="839.7,1695 820.7,1695 820.7,1711 865.3,1774.5"/>
<polyline points="1040.8,1594.8 1085.9,1657.1 1085.9,1673.9"/>
<line x1="1067.4" y1="1673.9" x2="1124.2" y2="1673.9"/>
<line x1="1067.4" y1="1695.2" x2="1124.2" y2="1695.2"/>
<path d="M1067.4 1673.9 A10.6 10.6 0 0 0 1067.4 1695.2"/>
<polyline points="1085.9,1695.2 1085.9,1708.5 1041.1,1775"/>
<rect x="865.5" y="1594.8" width="175.3" height="179.6"/>
<rect x="868.8" y="1598" width="169.4" height="173.2" rx="3.3"/>
<rect x="872.2" y="1601.5" width="162.4" height="166.1" stroke-width="2.5" stroke="#2a2a2a" rx="1.1"/>
<rect x="869.3" y="1664.2" width="4.4" height="40.5"/>
<rect x="1033.2" y="1664.2" width="4.4" height="40.5"/>
<line x1="871.5" y1="1664.9" x2="871.5" y2="1704.1" stroke-width="2.2" stroke="#fff"/>
<line x1="1035.4" y1="1664.9" x2="1035.4" y2="1704.1" stroke-width="2.2" stroke="#fff"/>
<rect x="883.6" y="1605.1" width="23.3" height="20.3" stroke-width="1.6" stroke="#2a2a2a"/>
<rect x="1000" y="1605.1" width="23.5" height="20.3" stroke-width="1.6" stroke="#2a2a2a"/>
<path d="M882.4 1625.4 L882.4 1737.5 A5.5 5.5 0 0 0 887.9 1743.1 L1019.3 1743.1 A5.5 5.5 0 0 0 1024.8 1737.5 L1024.8 1625.4"/>
<path d="M887.5 1628.6 L887.5 1647.3 L942.4 1647.3 L942.4 1616.1 A3.7 3.7 0 0 1 946.2 1612.3 L960.6 1612.3 A3.7 3.7 0 0 1 964.3 1616.1 L964.3 1647.3 L1019.8 1647.3 L1019.8 1628.6"/>
<line x1="882.4" y1="1628.6" x2="887.5" y2="1628.6"/>
<line x1="1019.8" y1="1628.6" x2="1024.8" y2="1628.6"/>
<rect x="889.4" y="1632.3" width="50.6" height="5" stroke-width="0.9"/>
<rect x="895.5" y="1632.5" width="38.5" height="4.7" fill="#4a4a4a" stroke="#333" stroke-width="0.8"/>
<line x1="895.5" y1="1631.4" x2="895.5" y2="1638.3"/>
<line x1="934" y1="1631.4" x2="934" y2="1638.3"/>
<rect x="965.5" y="1632.3" width="54.2" height="5" stroke-width="0.9"/>
<rect x="971.6" y="1632.5" width="42.1" height="4.7" fill="#4a4a4a" stroke="#333" stroke-width="0.8"/>
<line x1="971.6" y1="1631.4" x2="971.6" y2="1638.3"/>
<line x1="1013.7" y1="1631.4" x2="1013.7" y2="1638.3"/>
<line x1="940" y1="1634.8" x2="944.5" y2="1634.8"/>
<line x1="961" y1="1634.8" x2="965.5" y2="1634.8"/>
<rect x="887.5" y="1653.6" width="29.9" height="39.3"/>
<rect x="988.6" y="1653.6" width="30.6" height="39.3"/>
<rect x="887.5" y="1698.9" width="29.9" height="38.6"/>
<rect x="988.6" y="1698.9" width="30.6" height="38.6"/>
<path d="M938.6 1653.6 L923.1 1653.6 L923.1 1692.8 L931.3 1692.8 Q946.8 1692.8 946.8 1681 L946.8 1677.6 A16 16 0 0 1 938.6 1656.3 Q938.6 1653.9 938.6 1653.6"/>
<path d="M967.6 1653.6 L983 1653.6 L983 1692.8 L974.9 1692.8 Q959.4 1692.8 959.4 1681 L959.4 1677.6 A16 16 0 0 0 967.6 1656.3 Q967.6 1653.9 967.6 1653.6"/>
<path d="M923.1 1698.9 L923.1 1737.5 L950.6 1737.5 L950.6 1721 Q949.5 1702.3 931.3 1698.9 Z"/>
<path d="M983 1698.9 L983 1737.5 L956.2 1737.5 L956.2 1721 Q957.3 1702.3 975.3 1698.9 Z"/>
<circle cx="953.2" cy="1662.9" r="9.4"/>
<circle cx="953.2" cy="1695.7" r="2.5" stroke-width="1.2"/>
<circle cx="953.2" cy="1695.7" r="5.6"/>
<path d="M945.1 1691.3 A9.4 9.4 0 0 1 961.3 1691.3"/>
<path d="M961.3 1700.1 A9.4 9.4 0 0 1 945.1 1700.1"/>
<text class="cl" font-size="29.7" text-anchor="middle" transform="translate(902.9 1683.5) scale(0.76 1)">1+</text>
<text class="cl" font-size="29.7" text-anchor="middle" transform="translate(1004.2 1683.5) scale(0.76 1)">2−</text>
<text class="cl" font-size="29.7" text-anchor="middle" transform="translate(902.3 1727.2) scale(0.6 1)">5</text>
<text class="cl" font-size="29.7" text-anchor="middle" transform="translate(1004.4 1727.2) scale(0.6 1)">6</text>
<line x1="887.5" y1="1753.6" x2="918.1" y2="1753.6" stroke-width="2.6" stroke="#555"/>
<line x1="896.4" y1="1753.6" x2="907.4" y2="1753.6" stroke-width="2.8" stroke="#222"/>
<line x1="989.8" y1="1753.6" x2="1019.8" y2="1753.6" stroke-width="2.6" stroke="#555"/>
<line x1="998.7" y1="1753.6" x2="1009.7" y2="1753.6" stroke-width="2.8" stroke="#222"/>
<line x1="901.9" y1="1748.5" x2="901.9" y2="1800.5"/>
<line x1="1004.2" y1="1748.5" x2="1004.2" y2="1800.5"/>
<line x1="901.9" y1="1798" x2="1004.2" y2="1798"/>
<polygon class="ah" points="901.9,1798 910.7,1796.3 910.7,1799.7"/>
<polygon class="ah" points="1004.2,1798 995.4,1799.7 995.4,1796.3"/>
<text class="dt" transform="translate(953.2 1796.1) scale(1.1 1)" font-size="11" text-anchor="middle">17</text>
<line x1="989.8" y1="1750.7" x2="989.8" y2="1825.5"/>
<line x1="1019.2" y1="1750.7" x2="1019.2" y2="1825.5"/>
<line x1="977.4" y1="1822.4" x2="1030.8" y2="1822.4"/>
<polygon class="ah" points="989.8,1822.4 982.1,1824.1 982.1,1820.7"/>
<polygon class="ah" points="1019.2,1822.4 1026.9,1820.7 1026.9,1824.1"/>
<text class="dt" transform="translate(1010.6 1820.4) scale(1.1 1)" font-size="11" text-anchor="middle">2-4.8</text>
<line x1="1019.8" y1="1632.1" x2="1106.2" y2="1632.1"/>
<line x1="1019.8" y1="1637.2" x2="1106.2" y2="1637.2"/>
<line x1="1103" y1="1623" x2="1103" y2="1648"/>
<polygon class="ah" points="1103,1632.1 1101.3,1624.4 1104.7,1624.4"/>
<polygon class="ah" points="1103,1637.2 1104.7,1644.9 1101.3,1644.9"/>
<line x1="1121.2" y1="1662.4" x2="1121.2" y2="1706.7"/>
<polygon class="ah" points="1121.2,1673.9 1119.5,1666.2 1122.9,1666.2"/>
<polygon class="ah" points="1121.2,1695.2 1122.9,1702.9 1119.5,1702.9"/>
<text class="dt" transform="translate(1119 1681.7) rotate(-90) scale(1.1 1)" font-size="11" text-anchor="middle">3.5</text>
<line x1="1019.8" y1="1750.9" x2="1106.2" y2="1750.9"/>
<line x1="1019.8" y1="1754.7" x2="1106.2" y2="1754.7"/>
<polygon class="ah" points="1103.5,1750.9 1101.8,1743.2 1105.2,1743.2"/>
<polygon class="ah" points="1103.5,1754.7 1105.2,1762.4 1101.8,1762.4"/>
<line x1="1103.5" y1="1577" x2="1103.5" y2="1647"/>
<text class="dt" transform="translate(1101.4 1607.2) rotate(-90) scale(1.1 1)" font-size="11" text-anchor="middle">2-0.8</text>
<line x1="1103.8" y1="1740" x2="1103.8" y2="1776.3"/>
<text class="dt" transform="translate(1101.6 1759.5) rotate(-90) scale(1.1 1)" font-size="11" text-anchor="middle">2-0.5</text>
<line x1="1102.1" y1="1532.5" x2="1266.5" y2="1532.5" stroke-width="1.6" stroke="#111"/>
<line x1="1102.1" y1="1532.5" x2="922.8" y2="1631.8"/>
<line x1="1102.1" y1="1532.5" x2="1001.4" y2="1632.5"/>
<polygon class="ah" points="922.8,1631.8 930.6,1625.5 932.3,1628.5"/>
<polygon class="ah" points="1001.4,1632.5 1007.2,1624.3 1009.7,1626.8"/>
<text class="nt" x="1110.6" y="1517.3" font-size="11.4" textLength="160">负载输入端子#250插片连接，</text>
<text class="nt" x="1110.6" y="1530.8" font-size="11.4" textLength="54">厚度t=0.8</text>
<line x1="729.8" y1="1838.1" x2="952.5" y2="1838.1"/>
<line x1="952.5" y1="1838.1" x2="907.1" y2="1753.6"/>
<line x1="952.5" y1="1838.1" x2="1013.5" y2="1752.5"/>
<polygon class="ah" points="907.1,1753.6 913.3,1761.5 910.2,1763.2"/>
<polygon class="ah" points="1013.5,1752.5 1009.2,1761.6 1006.3,1759.5"/>
<text class="nt" x="729.8" y="1836.6" font-size="11.4" textLength="214.5">线圈输入端子#187插片连接，厚度t=0.5</text>
<line x1="1074.7" y1="1695.8" x2="1107.8" y2="1838.5"/>
<line x1="1107.8" y1="1838.5" x2="1230.6" y2="1838.5"/>
<polygon class="ah" points="1074.7,1695.8 1078.3,1704 1075,1704.8"/>
<text class="nt" x="1109.6" y="1823.6" font-size="11.4" textLength="116">安装孔使用M3螺钉，</text>
<text class="nt" x="1109.6" y="1836.8" font-size="11.4" textLength="120.6">扭矩控制在1.4-2.2N.M</text></g>
</g>
</svg>
<svg width="1587" height="2277" viewBox="0 0 1587 2277"><text class="n1" x="206.6" y="1907.2">备注</text><text class="n2" y="1940.7"><tspan class="nc" x="205.5">：</tspan><tspan class="nc" x="228">产品部分尺寸未注尺寸公差，</tspan><tspan class="nc" x="493">当</tspan><tspan class="ns" x="516">≤</tspan><tspan class="nl" x="534.5">1mm</tspan><tspan class="nc" x="578.5">，</tspan><tspan class="nc" x="600">公差为</tspan><tspan class="nl" x="663">±</tspan><tspan class="nl" x="679.2">0.2mm;</tspan><tspan class="nc" x="763">当在</tspan><tspan class="nl" x="806.5">(</tspan><tspan class="nl" x="813">1-5</tspan><tspan class="nl" x="839.5">)</tspan><tspan class="nl" x="851">mm</tspan><tspan class="nc" x="886.5">之间时</tspan><tspan class="nc" x="947">，</tspan><tspan class="nc" x="968.5">公差为</tspan><tspan class="nl" x="1032.3">±</tspan><tspan class="nl" x="1048.2">0.3mm;</tspan><tspan class="nc" x="1131.5">当</tspan><tspan class="ns" x="1155">≥</tspan><tspan class="nl" x="1171.7">5mm</tspan><tspan class="nc" x="1217.3">，</tspan><tspan class="nc" x="1238.6">公差为</tspan><tspan class="nl" x="1302">±</tspan><tspan class="nl" x="1317.9">0.4mm</tspan><tspan class="nc" x="1380">。</tspan></text></svg>
<div class="rule" style="top:2170.7px"></div>
</body>
</html>
